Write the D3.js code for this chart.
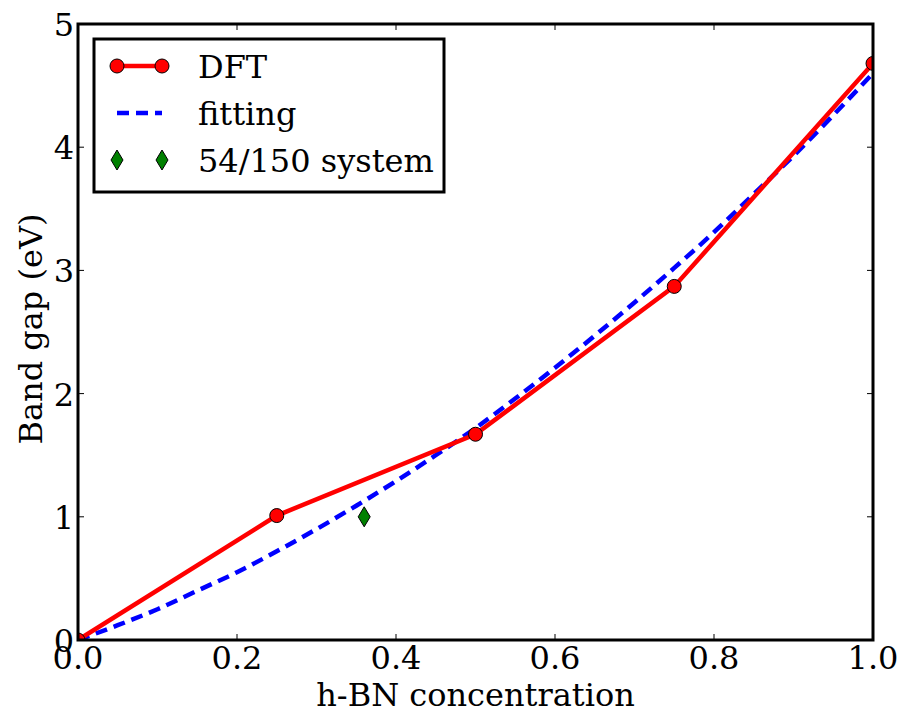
<!DOCTYPE html>
<html>
<head>
<meta charset="utf-8">
<script src="https://cdn.jsdelivr.net/npm/d3@7"></script>
<style>
  body { margin: 0; background: #fff; }
  text { font-family: "DejaVu Serif", serif; }
</style>
</head>
<body>
<svg id="canvas" width="907" height="713"></svg>
<script>
// data
let dftX = [0, 0.25, 0.5, 0.75, 1.0];
let dftY = [0, 1.01, 1.67, 2.87, 4.68];

let fitX = [0, 0.05, 0.1, 0.15, 0.2, 0.25, 0.3, 0.35, 0.4, 0.45, 0.5,
            0.55, 0.6, 0.65, 0.7, 0.75, 0.8, 0.85, 0.9, 0.95, 1.0];
let fitY = [0, 0.12, 0.25, 0.40, 0.55, 0.72, 0.90, 1.09, 1.29, 1.50, 1.72,
            1.96, 2.21, 2.47, 2.74, 3.02, 3.31, 3.62, 3.93, 4.26, 4.60];

let sysX = [0.36];
let sysY = [1.0];

let xTicks = [0, 0.2, 0.4, 0.6, 0.8, 1.0];
let yTicks = [0, 1, 2, 3, 4, 5];

let legendLabels = ['DFT', 'fitting', '54/150 system'];

let pLeft = 78, pRight = 873, pTop = 24, pBottom = 640;
let fs = 32;

let svg = d3.select('#canvas');

let x = d3.scaleLinear().domain([0, 1]).range([pLeft, pRight]);
let y = d3.scaleLinear().domain([0, 5]).range([pBottom, pTop]);

// clip to plot area
svg.append('clipPath').attr('id', 'clip')
  .append('rect').attr('x', pLeft).attr('y', pTop)
  .attr('width', pRight - pLeft).attr('height', pBottom - pTop);

let plot = svg.append('g').attr('clip-path', 'url(#clip)');

// fitting curve
let fitData = fitX.map((d, i) => [d, fitY[i]]);
plot.append('path')
  .datum(fitData)
  .attr('fill', 'none')
  .attr('stroke', '#0000ff')
  .attr('stroke-width', 4.5)
  .attr('stroke-dasharray', '12,7')
  .attr('d', d3.line().x(d => x(d[0])).y(d => y(d[1])).curve(d3.curveMonotoneX));

// DFT line
let dftData = dftX.map((d, i) => [d, dftY[i]]);
plot.append('path')
  .datum(dftData)
  .attr('fill', 'none')
  .attr('stroke', '#ff0000')
  .attr('stroke-width', 4.5)
  .attr('d', d3.line().x(d => x(d[0])).y(d => y(d[1])));

plot.selectAll('circle.dft')
  .data(dftData)
  .enter()
  .append('circle')
  .attr('class', 'dft')
  .attr('cx', d => x(d[0]))
  .attr('cy', d => y(d[1]))
  .attr('r', 7)
  .attr('fill', '#ff0000')
  .attr('stroke', '#000')
  .attr('stroke-width', 1);

let diamond = (cx, cy) => {
  let w = 6, h = 10;
  return `M${cx},${cy - h}L${cx + w},${cy}L${cx},${cy + h}L${cx - w},${cy}Z`;
};

let sysData = sysX.map((d, i) => [d, sysY[i]]);
plot.selectAll('path.sys')
  .data(sysData)
  .enter()
  .append('path')
  .attr('class', 'sys')
  .attr('d', d => diamond(x(d[0]), y(d[1])))
  .attr('fill', '#008000')
  .attr('stroke', '#000')
  .attr('stroke-width', 1);

// ticks (inside, all four sides)
let ticks = svg.append('g').attr('stroke', '#000').attr('stroke-width', 1);
xTicks.forEach(t => {
  ticks.append('line').attr('x1', x(t)).attr('x2', x(t)).attr('y1', pBottom).attr('y2', pBottom - 6);
  ticks.append('line').attr('x1', x(t)).attr('x2', x(t)).attr('y1', pTop).attr('y2', pTop + 6);
});
yTicks.forEach(t => {
  ticks.append('line').attr('x1', pLeft).attr('x2', pLeft + 6).attr('y1', y(t)).attr('y2', y(t));
  ticks.append('line').attr('x1', pRight).attr('x2', pRight - 6).attr('y1', y(t)).attr('y2', y(t));
});

// frame
svg.append('rect')
  .attr('x', pLeft).attr('y', pTop)
  .attr('width', pRight - pLeft).attr('height', pBottom - pTop)
  .attr('fill', 'none').attr('stroke', '#000').attr('stroke-width', 3);

// tick labels
svg.selectAll('text.xt')
  .data(xTicks)
  .enter()
  .append('text')
  .attr('class', 'xt')
  .attr('x', d => x(d))
  .attr('y', pBottom + 29)
  .attr('text-anchor', 'middle')
  .attr('font-size', fs)
  .text(d => d.toFixed(1));

svg.selectAll('text.yt')
  .data(yTicks)
  .enter()
  .append('text')
  .attr('class', 'yt')
  .attr('x', pLeft - 4)
  .attr('y', d => y(d) + 12)
  .attr('text-anchor', 'end')
  .attr('font-size', fs)
  .text(d => d);

// axis labels
svg.append('text')
  .attr('x', (pLeft + pRight) / 2)
  .attr('y', 706)
  .attr('text-anchor', 'middle')
  .attr('font-size', fs)
  .text('h-BN concentration');

svg.append('text')
  .attr('transform', `translate(42, 329) rotate(-90)`)
  .attr('text-anchor', 'middle')
  .attr('font-size', fs)
  .text('Band gap (eV)');

// legend
let lg = svg.append('g');
lg.append('rect')
  .attr('x', 94).attr('y', 39)
  .attr('width', 350).attr('height', 153)
  .attr('fill', '#fff').attr('stroke', '#000').attr('stroke-width', 3);

let rowY = [66, 113, 160];
// DFT
lg.append('line').attr('x1', 117).attr('x2', 162).attr('y1', rowY[0]).attr('y2', rowY[0])
  .attr('stroke', '#ff0000').attr('stroke-width', 4.5);
[117, 162].forEach(cx => {
  lg.append('circle').attr('cx', cx).attr('cy', rowY[0]).attr('r', 7)
    .attr('fill', '#ff0000').attr('stroke', '#000').attr('stroke-width', 1);
});
// fitting
lg.append('line').attr('x1', 117).attr('x2', 162).attr('y1', rowY[1]).attr('y2', rowY[1])
  .attr('stroke', '#0000ff').attr('stroke-width', 4.5).attr('stroke-dasharray', '12,7');
// system
[117, 162].forEach(cx => {
  lg.append('path').attr('d', diamond(cx, rowY[2]))
    .attr('fill', '#008000').attr('stroke', '#000').attr('stroke-width', 1);
});

lg.selectAll('text.lt')
  .data(legendLabels)
  .enter()
  .append('text')
  .attr('class', 'lt')
  .attr('x', 198)
  .attr('y', (d, i) => rowY[i] + 12)
  .attr('font-size', fs)
  .text(d => d);
</script>
</body>
</html>
